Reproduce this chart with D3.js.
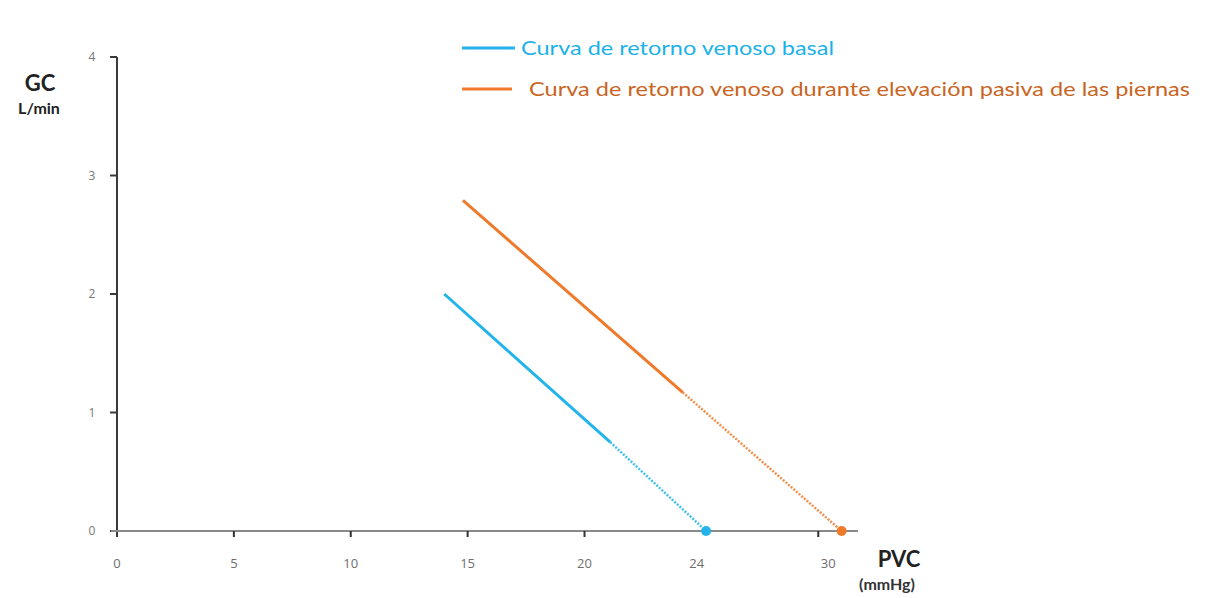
<!DOCTYPE html>
<html><head><meta charset="utf-8">
<script src="https://cdn.jsdelivr.net/npm/d3@7"></script>
<style>body{margin:0;background:#fff}svg{display:block}</style>
</head><body><svg id="c" width="1209" height="598"></svg>
<script>
// ---- data ----
const xTicks = [0, 5, 10, 15, 20, 30];
const yTicks = [0, 1, 2, 3, 4];
const extraLabelValue = 24.8;   // "24" annotation (no tick mark)
const extraLabelText = "24";
const basalX = [14.0, 21.1, 25.2];
const basalY = [2.0, 0.75, 0];
const plrX = [14.8, 24.2, 31.0];
const plrY = [2.79, 1.17, 0];
const seriesNames = ["Curva de retorno venoso basal", "Curva de retorno venoso durante elevación pasiva de las piernas"];
const seriesColors = ["#22b4ea", "#f07b2c"];
const textColors = ["#1cb2e8", "#c9651f"];

const svg = d3.select("#c");
const font = "Lato, 'Open Sans', sans-serif";
const tickFont = "'Open Sans', sans-serif";
const x = d3.scaleLinear().domain([0, 31.7]).range([117, 858]);
const y = d3.scaleLinear().domain([0, 4]).range([531, 57]);

// y axis
svg.append("line").attr("x1", x(0)).attr("x2", x(0)).attr("y1", y(4)).attr("y2", y(0) + 6)
  .attr("stroke", "#3a3a3a").attr("stroke-width", 2);
svg.selectAll(".yt").data(yTicks).join("line")
  .attr("x1", x(0) - 7).attr("x2", x(0)).attr("y1", d => y(d)).attr("y2", d => y(d))
  .attr("stroke", "#3a3a3a").attr("stroke-width", 2);
svg.selectAll(".yl").data(yTicks).join("text")
  .attr("x", 92).attr("y", d => y(d) + 4).attr("text-anchor", "middle")
  .attr("font-family", tickFont).attr("font-size", 12).attr("fill", "#777").text(d => d);

// x axis
svg.append("line").attr("x1", x(0) - 6).attr("x2", x(31.7)).attr("y1", y(0)).attr("y2", y(0))
  .attr("stroke", "#8a8a8a").attr("stroke-width", 2);
svg.selectAll(".xt").data(xTicks.filter(d => d > 0)).join("line")
  .attr("x1", d => x(d)).attr("x2", d => x(d)).attr("y1", y(0)).attr("y2", y(0) + 6)
  .attr("stroke", "#333").attr("stroke-width", 2);
svg.selectAll(".xl").data(xTicks).join("text")
  .attr("x", d => x(d) + (d === 30 ? 10 : 0)).attr("y", 568).attr("text-anchor", "middle")
  .attr("font-family", tickFont).attr("font-size", 13).attr("fill", "#6e6e6e").text(d => d);
svg.append("text").attr("x", x(extraLabelValue)).attr("y", 568).attr("text-anchor", "middle")
  .attr("font-family", tickFont).attr("font-size", 13).attr("fill", "#6e6e6e").text(extraLabelText);

// axis titles
svg.append("text").attr("x", 40).attr("y", 91).attr("text-anchor", "middle")
  .attr("font-family", font).attr("font-weight", "bold").attr("font-size", 22).attr("fill", "#222").text("GC");
svg.append("text").attr("x", 39).attr("y", 114).attr("text-anchor", "middle")
  .attr("font-family", font).attr("font-weight", "bold").attr("font-size", 16).attr("fill", "#222").text("L/min");
svg.append("text").attr("x", 899).attr("y", 567).attr("text-anchor", "middle")
  .attr("font-family", font).attr("font-weight", "bold").attr("font-size", 22).attr("fill", "#222").text("PVC");
svg.append("text").attr("x", 887).attr("y", 590).attr("text-anchor", "middle")
  .attr("font-family", font).attr("font-weight", "bold").attr("font-size", 16).attr("fill", "#333").text("(mmHg)");

// series
const line = d3.line().x(d => x(d[0])).y(d => y(d[1]));
function drawSeries(xs, ys, color) {
  const pts = xs.map((v, i) => [v, ys[i]]);
  svg.append("path").attr("d", line(pts.slice(0, 2))).attr("fill", "none")
    .attr("stroke", color).attr("stroke-width", 3);
  svg.append("path").attr("d", line(pts.slice(1))).attr("fill", "none")
    .attr("stroke", color).attr("stroke-width", 2.5).attr("stroke-dasharray", "2,1.5").attr("opacity", 0.85);
  svg.append("circle").attr("cx", x(xs[xs.length - 1])).attr("cy", y(ys[ys.length - 1])).attr("r", 5)
    .attr("fill", color);
}
drawSeries(basalX, basalY, seriesColors[0]);
drawSeries(plrX, plrY, "#ee7a2a");

// legend
const legY = [48, 89], legTextX = [521, 529], legW = [313, 661];
seriesNames.forEach((n, i) => {
  svg.append("line").attr("x1", 462).attr("x2", i === 0 ? 515 : 512).attr("y1", legY[i]).attr("y2", legY[i])
    .attr("stroke", seriesColors[i]).attr("stroke-width", 3);
  svg.append("text").attr("x", legTextX[i]).attr("y", legY[i] + 7)
    .attr("font-family", font).attr("font-size", 19).attr("fill", textColors[i])
    .attr("textLength", legW[i]).attr("lengthAdjust", "spacingAndGlyphs").text(n);
});
</script></body></html>
